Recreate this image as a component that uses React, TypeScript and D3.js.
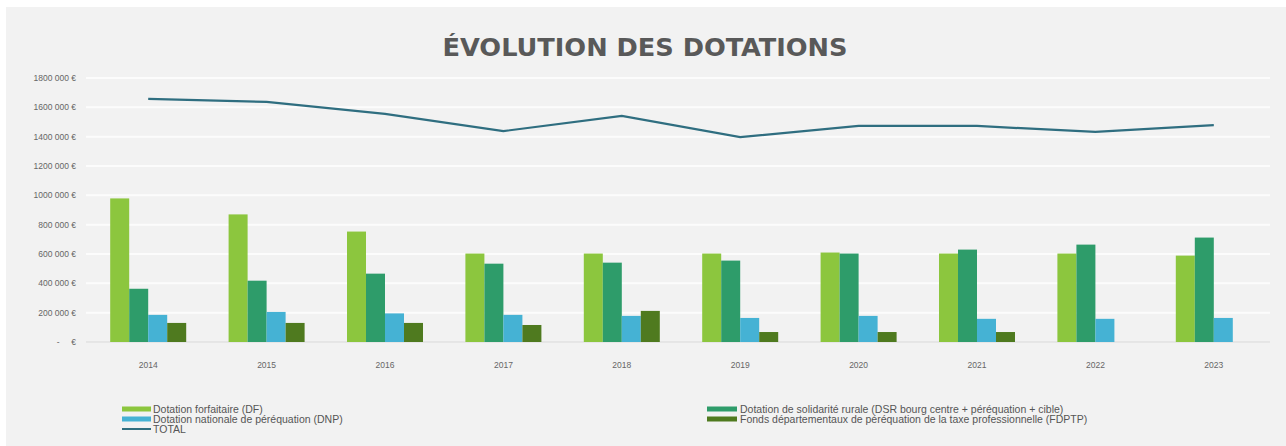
import React from "react";
import * as d3 from "d3";

const years = ["2014", "2015", "2016", "2017", "2018", "2019", "2020", "2021", "2022", "2023"];

const dotationForfaitaire = [979000, 870000, 753000, 603000, 603000, 603000, 610000, 603000, 603000, 589000];
const dotationSolidarite = [363000, 418000, 466000, 534000, 541000, 555000, 603000, 630000, 664000, 712000];
const dotationPerequation = [185000, 205000, 195000, 185000, 178000, 164000, 178000, 158000, 158000, 164000];
const fondsDepartementaux = [130000, 130000, 130000, 116000, 212000, 68000, 68000, 68000, 0, 0];
const total = [1658000, 1637000, 1555000, 1438000, 1541000, 1397000, 1473000, 1473000, 1432000, 1479000];

const yTicks = [0, 200000, 400000, 600000, 800000, 1000000, 1200000, 1400000, 1600000, 1800000];
const yTickLabels = ["-     €", "200 000 €", "400 000 €", "600 000 €", "800 000 €", "1000 000 €", "1200 000 €", "1400 000 €", "1600 000 €", "1800 000 €"];

const series = [
  { key: "DF", name: "Dotation forfaitaire (DF)", values: dotationForfaitaire, color: "#8cc63e" },
  { key: "DSR", name: "Dotation de solidarité rurale (DSR bourg centre + péréquation + cible)", values: dotationSolidarite, color: "#2e9c6a" },
  { key: "DNP", name: "Dotation nationale de péréquation (DNP)", values: dotationPerequation, color: "#45b2d4" },
  { key: "FDPTP", name: "Fonds départementaux de péréquation de la taxe professionnelle (FDPTP)", values: fondsDepartementaux, color: "#4f7a1f" },
];

const lineColor = "#2f6e80";
const font = "'Liberation Sans', Arial, sans-serif";

export default function App() {
  const x = d3.scaleBand().domain(years).range([89, 1273]);
  const xInner = d3.scaleBand().domain(series.map((s) => s.key)).range([-38, 38]);
  const y = d3.scaleLinear().domain([0, 1800000]).range([342, 78]);

  const line = d3
    .line<number>()
    .x((_, i) => (x(years[i]) as number) + x.bandwidth() / 2)
    .y((d) => y(d));

  const legendLeft = [
    { label: series[0].name, color: series[0].color, type: "rect" },
    { label: series[2].name, color: series[2].color, type: "rect" },
    { label: "TOTAL", color: lineColor, type: "line" },
  ];
  const legendRight = [
    { label: series[1].name, color: series[1].color, type: "rect" },
    { label: series[3].name, color: series[3].color, type: "rect" },
  ];

  return (
    <svg width={1286} height={446} style={{ position: "absolute", left: 0, top: 0 }}>
      <rect x={0} y={0} width={1286} height={446} fill="#ffffff" />
      <rect x={6} y={7} width={1280} height={439} fill="#f2f2f2" />

      <text
        x={645}
        y={56}
        textAnchor="middle"
        fontFamily="'DejaVu Sans Condensed', 'DejaVu Sans', sans-serif"
        fontWeight="bold"
        fontSize={24}
        fill="#595959"
        textLength={405}
        lengthAdjust="spacingAndGlyphs"
      >
        ÉVOLUTION DES DOTATIONS
      </text>

      {/* grid */}
      {yTicks.map((t, i) => (
        <g key={t}>
          {i > 0 && <line x1={86} x2={1270} y1={y(t)} y2={y(t)} stroke="#fcfcfc" strokeWidth={2} />}
          <text
            x={76}
            y={y(t)}
            dy="0.35em"
            textAnchor="end"
            fontFamily={font}
            fontSize={8.5}
            fill="#666"
            style={{ whiteSpace: "pre" }}
          >
            {yTickLabels[i]}
          </text>
        </g>
      ))}
      <line x1={86} x2={1270} y1={y(0)} y2={y(0)} stroke="#d9d9d9" strokeWidth={1} />

      {/* bars */}
      {years.map((yr, i) => (
        <g key={yr} transform={`translate(${(x(yr) as number) + x.bandwidth() / 2},0)`}>
          {series.map((s) =>
            s.values[i] > 0 ? (
              <rect
                key={s.key}
                x={xInner(s.key) as number}
                y={y(s.values[i])}
                width={xInner.bandwidth()}
                height={y(0) - y(s.values[i])}
                fill={s.color}
              />
            ) : null
          )}
          <text y={368} textAnchor="middle" fontFamily={font} fontSize={8.5} fill="#666">
            {yr}
          </text>
        </g>
      ))}

      <path d={line(total) || ""} fill="none" stroke={lineColor} strokeWidth={2.2} />

      {/* legend */}
      {legendLeft.map((l, i) => (
        <g key={l.label} transform={`translate(122,${409 + i * 10})`}>
          {l.type === "rect" ? (
            <rect x={0} y={-2.5} width={29} height={5} fill={l.color} />
          ) : (
            <line x1={0} x2={29} y1={0} y2={0} stroke={l.color} strokeWidth={2} />
          )}
          <text x={31} dy="0.35em" fontFamily={font} fontSize={10.5} fill="#555">
            {l.label}
          </text>
        </g>
      ))}
      {legendRight.map((l, i) => (
        <g key={l.label} transform={`translate(707,${409 + i * 10})`}>
          <rect x={0} y={-2.5} width={30} height={5} fill={l.color} />
          <text x={33} dy="0.35em" fontFamily={font} fontSize={10.5} fill="#555">
            {l.label}
          </text>
        </g>
      ))}
    </svg>
  );
}
